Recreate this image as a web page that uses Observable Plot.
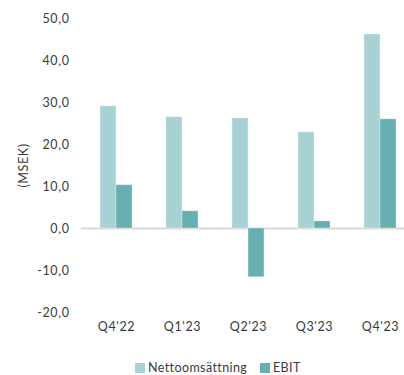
<!DOCTYPE html>
<html>
<head>
<meta charset="utf-8">
<script src="https://cdn.jsdelivr.net/npm/d3@7"></script>
<script src="https://cdn.jsdelivr.net/npm/@observablehq/plot@0.6"></script>
<style>
  html, body { margin: 0; padding: 0; background: #fff; }
  #chart { width: 404px; height: 375px; overflow: hidden; position: relative; font-family: Lato, "Open Sans", sans-serif; }
  .legend { position: absolute; top: 360px; left: 0; width: 404px; font-size: 12.5px; color: #3a3a3a; letter-spacing: 0.4px; }
  .legend span.item { position: absolute; top: 0; white-space: nowrap; }
  .legend i { display: inline-block; width: 10px; height: 10px; margin-right: 3px; vertical-align: -1px; }
</style>
</head>
<body>
<div id="chart"></div>
<script>
const quarters = ["Q4'22", "Q1'23", "Q2'23", "Q3'23", "Q4'23"];
const netto = [29.1, 26.5, 26.2, 22.9, 46.2];
const ebit = [10.3, 4.1, -11.6, 1.7, 26.0];
const yTicks = [-20, -10, 0, 10, 20, 30, 40, 50];
const seriesNames = ["Nettoomsättning", "EBIT"];
const colors = ["#a7d1d3", "#66b0b2"];

const nettoRows = quarters.map((q, i) => ({q, s: seriesNames[0], v: netto[i]}));
const ebitRows = quarters.map((q, i) => ({q, s: seriesNames[1], v: ebit[i]}));

const fmt = d => d.toFixed(1).replace(".", ",");

const plot = Plot.plot({
  width: 404,
  height: 345,
  marginLeft: 81,
  marginRight: 0,
  marginTop: 18,
  marginBottom: 33,
  style: {fontFamily: "Lato, 'Open Sans', sans-serif", fontSize: "12.5px", color: "#3a3a3a", letterSpacing: "0.6px", overflow: "hidden"},
  x: {domain: quarters, range: [81, 415], paddingInner: 0.521, paddingOuter: 0.2605, align: 0.5, label: null, tickSize: 0, tickPadding: 10},
  y: {domain: [-20, 50], ticks: yTicks, tickFormat: fmt, tickSize: 0, tickPadding: 12, label: "(MSEK)", labelAnchor: "center", labelOffset: 62, labelArrow: "none"},
  marks: [
    Plot.ruleY([0], {stroke: "#dadada", strokeWidth: 2}),
    Plot.barY(nettoRows, {x: "q", y: "v", fill: colors[0], insetRight: 16, stroke: "#ffffff", strokeOpacity: 0.3}),
    Plot.barY(ebitRows, {x: "q", y: "v", fill: colors[1], insetLeft: 16, stroke: "#ffffff", strokeOpacity: 0.3})
  ]
});
const chart = document.getElementById("chart");
chart.appendChild(plot);

const legend = document.createElement("div");
legend.className = "legend";
const lx = [135, 260];
seriesNames.forEach((name, i) => {
  const item = document.createElement("span");
  item.className = "item";
  item.style.left = lx[i] + "px";
  const sw = document.createElement("i");
  sw.style.background = colors[i];
  item.appendChild(sw);
  item.appendChild(document.createTextNode(name));
  legend.appendChild(item);
});
chart.appendChild(legend);
</script>
</body>
</html>
